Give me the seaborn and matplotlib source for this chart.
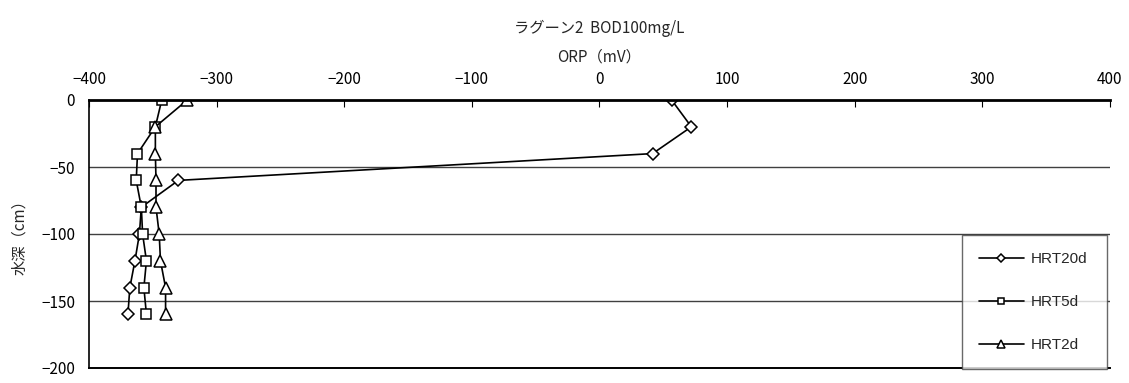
import matplotlib
matplotlib.use("Agg")
import matplotlib.pyplot as plt
import seaborn as sns
import pandas as pd

depth = [0, -20, -40, -60, -80, -100, -120, -140, -160]
hrt20d = [56.5, 72, 41.6, -330, -359, -360.5, -364, -368, -369.5]
hrt5d = [-343, -348, -362, -363, -359, -358, -355, -357, -355]
hrt2d = [-323, -348, -348, -347.5, -347.5, -345, -344, -340, -340]
series_names = ["HRT20d", "HRT5d", "HRT2d"]
title = "ラグーン2  BOD100mg/L"
xlabel = "ORP（mV）"
ylabel = "水深（cm）"

sns.set_style("white")
plt.rcParams["font.family"] = ["Noto Sans CJK JP", "DejaVu Sans"]
plt.rcParams["axes.unicode_minus"] = True

fig = plt.figure(figsize=(11.29, 3.83), dpi=100)
ax = fig.add_axes([89/1129, 1-368/383, 1021/1129, 268/383])

markers = ["D", "s", "^"]
msizes = [6, 7, 8]
for name, vals, mk, ms in zip(series_names, [hrt20d, hrt5d, hrt2d], markers, msizes):
    df = pd.DataFrame({"orp": vals, "depth": depth})
    sns.lineplot(data=df, x="orp", y="depth", sort=False, estimator=None,
                 orient="y", ax=ax, color="black", linewidth=1.2,
                 marker=mk, markersize=ms, markerfacecolor="white",
                 markeredgecolor="black", markeredgewidth=1.1, label=name)

ax.set_xlim(-400, 400)
ax.set_ylim(-200, 0)
ax.set_xticks(range(-400, 401, 100))
ax.set_yticks(range(-200, 1, 50))
ax.xaxis.tick_top()
ax.xaxis.set_label_position("top")
ax.tick_params(axis="x", direction="in", length=5, width=0.8, labelsize=11, pad=9, colors="black")
ax.tick_params(axis="y", length=0, labelsize=11, pad=10, colors="black")
ax.set_xlabel(xlabel, fontsize=11)
ax.xaxis.set_label_coords(0.5, (368 - 57) / 268)
ax.xaxis.label.set_va("center")
ax.set_ylabel(ylabel, fontsize=11)
ax.yaxis.set_label_coords(-(89 - 20) / 1021, 0.5)
ax.yaxis.label.set_va("center")
ax.set_title(title, fontsize=11, y=(368 - 28) / 268, va="center", pad=0)

for y in [-50, -100, -150]:
    ax.axhline(y, color="#404040", linewidth=1.0, zorder=0)

ax.spines["top"].set_linewidth(2.0)
ax.spines["top"].set_color("black")
ax.spines["left"].set_linewidth(1.2)
ax.spines["left"].set_color("black")
ax.spines["bottom"].set_linewidth(1.4)
ax.spines["bottom"].set_color("black")
ax.spines["right"].set_visible(False)

leg = ax.legend(loc="lower left", bbox_to_anchor=(0.8548, -0.004, 0.1422, 0.5),
                mode="expand", frameon=True, fancybox=False, edgecolor="#444444",
                prop={"family": ["Liberation Sans", "DejaVu Sans"], "size": 11},
                handlelength=3.0, handletextpad=0.4,
                labelspacing=1.9, borderpad=1.1, markerscale=0.7, borderaxespad=0)
leg.get_frame().set_linewidth(1.0)

fig.savefig("out.png", dpi=100)
